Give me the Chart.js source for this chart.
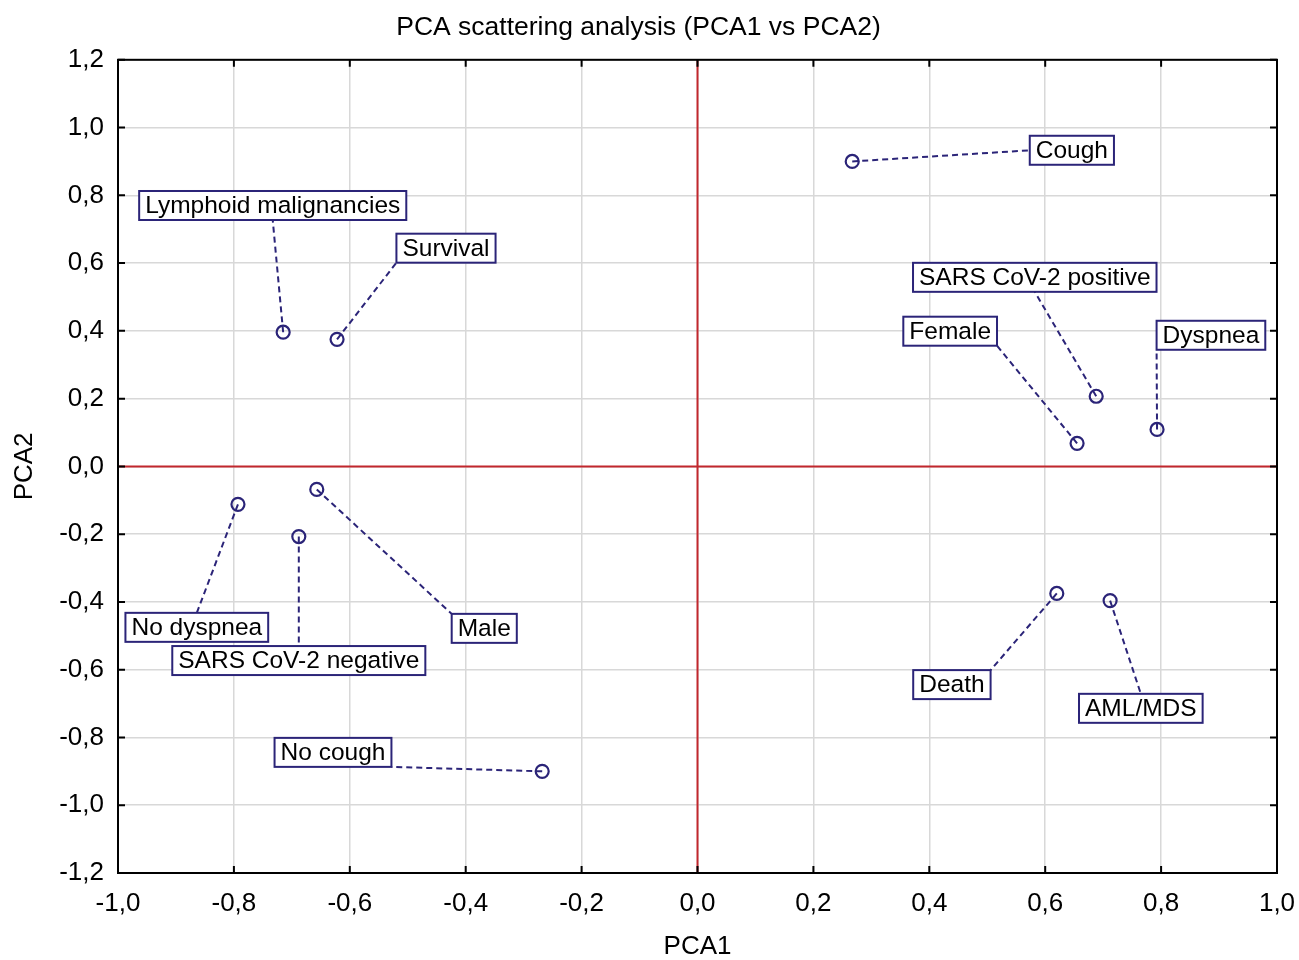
<!DOCTYPE html>
<html>
<head>
<meta charset="utf-8">
<title>PCA scattering analysis</title>
<script src="https://cdn.jsdelivr.net/npm/chart.js@4.4.1/dist/chart.umd.min.js"></script>
<style>
  html, body { margin: 0; padding: 0; background: #fff; }
  #wrap { width: 1299px; height: 960px; }
</style>
</head>
<body>
<div id="wrap"><canvas id="grafico-pca"></canvas></div>
<script>
// variables and their loadings on the first two components
const variables = [
  "Cough", "Lymphoid malignancies", "Survival", "SARS CoV-2 positive",
  "Female", "Dyspnea", "No dyspnea", "SARS CoV-2 negative",
  "Male", "Death", "AML/MDS", "No cough"
];
const pca1 = [0.267, -0.715, -0.622, 0.688, 0.655, 0.793, -0.793, -0.688, -0.657, 0.620, 0.712, -0.268];
const pca2 = [0.900, 0.396, 0.375, 0.207, 0.068, 0.109, -0.112, -0.207, -0.068, -0.375, -0.396, -0.900];

// where each label box sits (data units) and where its leader line meets the box
const labelX = [0.646, -0.733, -0.434, 0.582, 0.436, 0.886, -0.864, -0.688, -0.368, 0.439, 0.765, -0.629];
const labelY = [0.933, 0.770, 0.644, 0.558, 0.399, 0.387, -0.475, -0.573, -0.478, -0.644, -0.714, -0.844];
const leaderAnchor = ["l", "b", "bl", "b", "br", "bl", "t", "t", "tl", "tr", "t", "br"];

const axisMin = -1.0;
const axisMaxX = 1.0;
const axisMinY = -1.2;
const axisMaxY = 1.2;
const tickStep = 0.2;

document.addEventListener("DOMContentLoaded", function () {
  const navy = "#2b2478";
  const red = "#c1272d";
  const fontFamily = "'Liberation Sans', Arial, Helvetica, sans-serif";
  const labelFont = "24.5px " + fontFamily;
  const ctx = document.getElementById("grafico-pca").getContext("2d");

  Chart.defaults.font.family = fontFamily;
  Chart.defaults.color = "#000";

  function formatTick(value) {
    return Number(value).toFixed(1).replace(".", ",").replace("-0,0", "0,0");
  }

  function labelBox(chart, i) {
    const { ctx, scales } = chart;
    const cx = scales.x.getPixelForValue(labelX[i]);
    const cy = scales.y.getPixelForValue(labelY[i]);
    const w = ctx.measureText(variables[i]).width + 12;
    const h = 29;
    return { x0: cx - w / 2, y0: cy - h / 2, x1: cx + w / 2, y1: cy + h / 2, cx: cx, cy: cy };
  }

  function anchorPoint(box, code) {
    switch (code) {
      case "l": return { x: box.x0, y: box.cy };
      case "r": return { x: box.x1, y: box.cy };
      case "b": return { x: box.cx, y: box.y1 };
      case "t": return { x: box.cx, y: box.y0 };
      case "bl": return { x: box.x0, y: box.y1 };
      case "br": return { x: box.x1, y: box.y1 };
      case "tl": return { x: box.x0, y: box.y0 };
      case "tr": return { x: box.x1, y: box.y0 };
    }
    return { x: box.cx, y: box.cy };
  }

  const pcaLabels = {
    id: "pcaLabels",
    beforeDatasetsDraw(chart) {
      const { ctx, chartArea, scales } = chart;
      const x = scales.x;
      const y = scales.y;

      // zero lines
      ctx.save();
      ctx.strokeStyle = red;
      ctx.lineWidth = 2;
      const x0 = x.getPixelForValue(0);
      const y0 = y.getPixelForValue(0);
      ctx.beginPath();
      ctx.moveTo(x0, chartArea.top);
      ctx.lineTo(x0, chartArea.bottom);
      ctx.moveTo(chartArea.left, y0);
      ctx.lineTo(chartArea.right, y0);
      ctx.stroke();
      ctx.restore();

      // leader lines
      ctx.save();
      ctx.font = labelFont;
      ctx.strokeStyle = navy;
      ctx.lineWidth = 2;
      ctx.setLineDash([6, 4]);
      variables.forEach((name, i) => {
        const end = anchorPoint(labelBox(chart, i), leaderAnchor[i]);
        ctx.beginPath();
        ctx.moveTo(x.getPixelForValue(pca1[i]), y.getPixelForValue(pca2[i]));
        ctx.lineTo(end.x, end.y);
        ctx.stroke();
      });
      ctx.restore();
    },
    afterDatasetsDraw(chart) {
      const { ctx } = chart;
      ctx.save();
      ctx.font = labelFont;
      ctx.textAlign = "center";
      ctx.textBaseline = "middle";
      variables.forEach((name, i) => {
        const box = labelBox(chart, i);
        ctx.fillStyle = "#fff";
        ctx.fillRect(box.x0, box.y0, box.x1 - box.x0, box.y1 - box.y0);
        ctx.strokeStyle = navy;
        ctx.lineWidth = 2;
        ctx.strokeRect(box.x0, box.y0, box.x1 - box.x0, box.y1 - box.y0);
        ctx.fillStyle = "#000";
        ctx.fillText(name, box.cx, box.cy + 1);
      });
      ctx.restore();
    },
    afterDraw(chart) {
      const { ctx, chartArea, scales } = chart;
      const tick = 7;
      ctx.save();
      ctx.strokeStyle = "#000";
      ctx.lineWidth = 2;
      ctx.strokeRect(chartArea.left, chartArea.top, chartArea.right - chartArea.left, chartArea.bottom - chartArea.top);
      ctx.beginPath();
      scales.x.ticks.forEach((t) => {
        const px = scales.x.getPixelForValue(t.value);
        ctx.moveTo(px, chartArea.bottom);
        ctx.lineTo(px, chartArea.bottom - tick);
        ctx.moveTo(px, chartArea.top);
        ctx.lineTo(px, chartArea.top + tick);
      });
      scales.y.ticks.forEach((t) => {
        const py = scales.y.getPixelForValue(t.value);
        ctx.moveTo(chartArea.left, py);
        ctx.lineTo(chartArea.left + tick, py);
        ctx.moveTo(chartArea.right, py);
        ctx.lineTo(chartArea.right - tick, py);
      });
      ctx.stroke();
      ctx.restore();
    }
  };

  const points = variables.map((name, i) => ({ x: pca1[i], y: pca2[i] }));

  new Chart(ctx, {
    type: "scatter",
    data: {
      datasets: [
        {
          label: "Variables",
          data: points,
          pointStyle: "circle",
          pointRadius: 6.5,
          pointHoverRadius: 6.5,
          borderWidth: 2.2,
          borderColor: navy,
          backgroundColor: "rgba(0,0,0,0)",
        },
      ],
    },
    options: {
      responsive: true,
      maintainAspectRatio: false,
      animation: false,
      layout: { padding: { left: 0, right: 22, top: 0, bottom: 0 } },
      plugins: {
        legend: { display: false },
        tooltip: { enabled: false },
        title: {
          display: true,
          text: "PCA scattering analysis (PCA1 vs PCA2)",
          font: { size: 26.5, weight: "normal", lineHeight: 1.2 },
          color: "#000",
          padding: { top: 12, bottom: 16 },
        },
      },
      scales: {
        x: {
          type: "linear",
          min: axisMin,
          max: axisMaxX,
          ticks: { stepSize: tickStep, padding: 15, font: { size: 26 }, callback: formatTick },
          grid: { color: "#d8d8d8", lineWidth: 1.5, drawTicks: false },
          border: { display: false },
          title: { display: true, text: "PCA1", font: { size: 26, lineHeight: 1 }, padding: { top: 0, bottom: 0 } },
          afterFit(scale) {
            scale.height = 87;
            scale.paddingLeft = 0;
            scale.paddingRight = 0;
          },
        },
        y: {
          type: "linear",
          min: axisMinY,
          max: axisMaxY,
          ticks: { stepSize: tickStep, padding: 14, font: { size: 26 }, callback: formatTick },
          grid: { color: "#d8d8d8", lineWidth: 1.5, drawTicks: false },
          border: { display: false },
          title: { display: true, text: "PCA2", font: { size: 26, lineHeight: 1.2 }, padding: { top: 9, bottom: 0 } },
          afterFit(scale) { scale.width = 118; },
        },
      },
    },
    plugins: [pcaLabels],
  });
});
</script>
</body>
</html>
